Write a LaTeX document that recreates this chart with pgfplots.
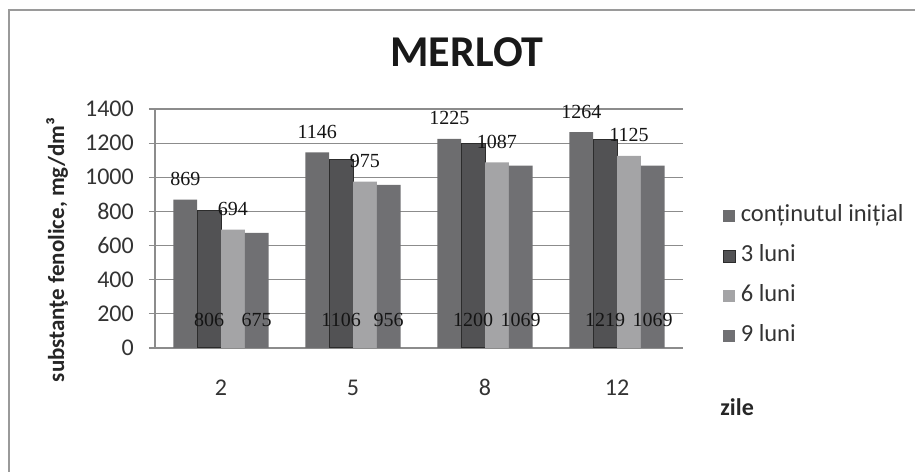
\documentclass[border=0pt]{standalone}
\usepackage{fontspec}
\setmainfont{Carlito}
\newfontfamily\labelfont{Liberation Serif}
\usepackage{pgfplots}
\usepackage{pgfplotstable}
\pgfplotsset{compat=1.18}

\definecolor{serA}{HTML}{6D6D6F}
\definecolor{serB}{HTML}{525254}
\definecolor{serBedge}{HTML}{2C2C2C}
\definecolor{serC}{HTML}{A4A4A6}
\definecolor{serD}{HTML}{707073}
\definecolor{gridc}{HTML}{8C8C8C}
\definecolor{txt}{HTML}{333333}
\definecolor{frame}{HTML}{9A9A9A}

% phenolic content, mg/dm3, by day (2, 5, 8, 12)
\pgfplotstableread{
x init luni3 luni6 luni9
0 869 806 694 675
1 1146 1106 975 956
2 1225 1200 1087 1069
3 1264 1219 1125 1069
}\merlot

\begin{document}
\begin{tikzpicture}
\path[use as bounding box] (0bp,0bp) rectangle (915bp,472bp);
\draw[frame, line width=1.6bp] (9bp,0bp) -- (9bp,462bp) -- (915bp,462bp);
\begin{axis}[
  at={(155bp,124bp)}, anchor=south west,
  scale only axis, width=528bp, height=239bp,
  xmin=-0.5, xmax=3.5, ymin=0, ymax=1400,
  xtick={0,1,2,3}, xticklabels={2,5,8,12},
  ytick={0,200,...,1400},
  axis x line*=bottom, axis y line*=left,
  axis line style={gridc, line width=1.2bp, -},
  ymajorgrids, grid style={gridc, line width=1.2bp},
  xtick style={draw=none},
  ytick style={gridc, line width=1.2bp},
  tick align=outside, major tick length=6bp,
  /pgf/number format/1000 sep={},
  /pgf/number format/assume math mode=true,
  tick label style={font=\fontsize{24bp}{28bp}\selectfont, text=txt},
  yticklabel style={anchor=east, inner sep=0pt, xshift=-15bp},
  xticklabel style={anchor=base, inner sep=0pt, yshift=-41bp},
  title={MERLOT},
  title style={at={(rel axis cs:0.591,1)}, anchor=base, yshift=37bp,
    font=\fontsize{44bp}{50bp}\selectfont\bfseries, text=black!90},
  ylabel={substanţe fenolice, mg/dm³},
  ylabel style={at={(axis description cs:-0.1856,0.41)}, anchor=center,
    font=\fontsize{23bp}{27bp}\selectfont\bfseries, text=black!85},
  xlabel={zile},
  xlabel style={at={(rel axis cs:1.0705,0)}, anchor=base west, yshift=-67bp,
    inner sep=0pt, font=\fontsize{24bp}{28bp}\selectfont\bfseries, text=black!85},
  legend style={at={(rel axis cs:1.075,0.594)}, anchor=north west,
    draw=none, fill=none, inner sep=0pt, row sep=20bp, column sep=5bp,
    font=\fontsize{24.5bp}{28bp}\selectfont, text=txt,
    nodes={inner sep=0pt, text height=15bp, text depth=5bp}},
  legend cell align=left,
  legend image code/.code={\fill[#1] (0bp,-6bp) rectangle (12bp,6bp);},
  label node/.style={draw=none, mark=none, forget plot, point meta=explicit,
    nodes near coords,
    nodes near coords style={font=\labelfont\fontsize{20bp}{23bp}\selectfont,
      text=black!92, anchor=base, inner sep=0pt}},
]
% bars, four per day
\addplot[ybar, bar width=0.18, fill=serA, draw=none]
  table[x expr=\thisrow{x}-0.27, y=init] {\merlot};
\addplot[ybar, bar width=0.18, fill=serB, draw=serBedge, line width=1bp]
  table[x expr=\thisrow{x}-0.09, y=luni3] {\merlot};
\addplot[ybar, bar width=0.18, fill=serC, draw=none]
  table[x expr=\thisrow{x}+0.09, y=luni6] {\merlot};
\addplot[ybar, bar width=0.18, fill=serD, draw=none]
  table[x expr=\thisrow{x}+0.27, y=luni9] {\merlot};
\legend{conținutul inițial, 3 luni, 6 luni, 9 luni}

% value labels: above the bars for series 1 and 3, at the base for 2 and 4
\addplot[label node, nodes near coords style={yshift=14bp}]
  table[x expr=\thisrow{x}-0.27, y=init, meta=init] {\merlot};
\addplot[label node, nodes near coords style={yshift=14bp}]
  table[x expr=\thisrow{x}+0.09, y=luni6, meta=luni6] {\merlot};
\addplot[label node, nodes near coords style={yshift=21bp}]
  table[x expr=\thisrow{x}-0.09, y expr=0, meta=luni3] {\merlot};
\addplot[label node, nodes near coords style={yshift=21bp}]
  table[x expr=\thisrow{x}+0.27, y expr=0, meta=luni9] {\merlot};
\end{axis}
\end{tikzpicture}
\end{document}
